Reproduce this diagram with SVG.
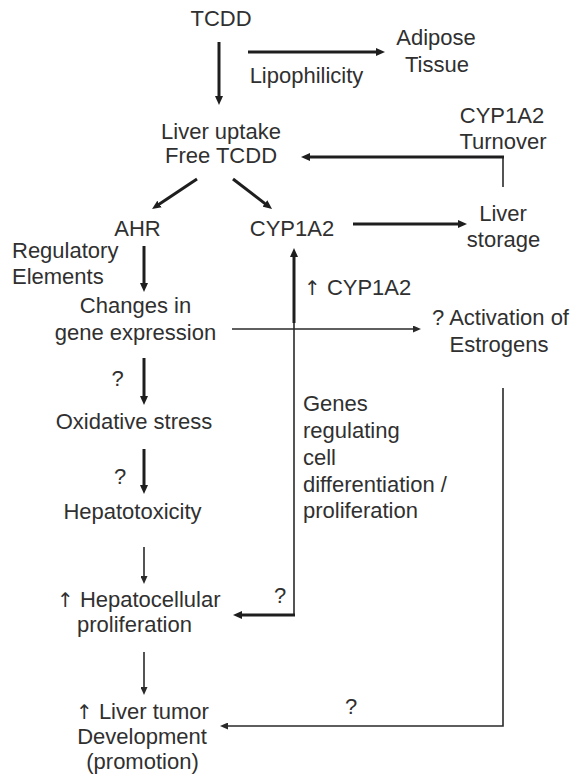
<svg xmlns="http://www.w3.org/2000/svg" width="570" height="780" viewBox="0 0 570 780">
<style>
text{font-family:"Liberation Sans",Arial,"DejaVu Sans",sans-serif;font-size:22px;fill:#303030}
.m{text-anchor:middle}
.up{font-family:"DejaVu Sans",sans-serif;font-size:20px;fill:#303030}
.thick{stroke:#1e1e1e;stroke-width:3;fill:none}
.thin{stroke:#2a2a2a;stroke-width:1.6;fill:none}
</style>
<defs>
<marker id="ah" markerUnits="userSpaceOnUse" markerWidth="10" markerHeight="8" refX="1" refY="4" orient="auto"><path d="M0,0 L9,4 L0,8 z" fill="#1e1e1e"/></marker>
<marker id="as" markerUnits="userSpaceOnUse" markerWidth="9" markerHeight="7" refX="1" refY="3.5" orient="auto"><path d="M0,0 L8,3.5 L0,7 z" fill="#2a2a2a"/></marker>
</defs>
<g id="n-tcdd"><text class="m" x="221" y="26">TCDD</text></g>
<g id="n-adipose"><text class="m" x="436" y="45">Adipose</text><text class="m" x="437" y="72">Tissue</text></g>
<g id="n-liver-uptake"><text class="m" x="221" y="139">Liver uptake</text><text class="m" x="221" y="163">Free TCDD</text></g>
<g id="n-turnover"><text class="m" x="502" y="123">CYP1A2</text><text class="m" x="503" y="149">Turnover</text></g>
<g id="n-ahr"><text class="m" x="137.5" y="236">AHR</text></g>
<g id="n-cyp1a2"><text class="m" x="292" y="236">CYP1A2</text></g>
<g id="n-storage"><text class="m" x="503" y="221">Liver</text><text class="m" x="503.5" y="247">storage</text></g>
<g id="n-regulatory"><text x="12" y="258">Regulatory</text><text x="12" y="284">Elements</text></g>
<g id="n-changes"><text class="m" x="135.5" y="313">Changes in</text><text class="m" x="135.5" y="340">gene expression</text></g>
<g id="n-estrogens"><text x="432" y="325">? Activation of</text><text class="m" x="499" y="352">Estrogens</text></g>
<g id="n-oxidative"><text class="m" x="134" y="429">Oxidative stress</text></g>
<g id="n-hepatotox"><text class="m" x="132.5" y="519">Hepatotoxicity</text></g>
<g id="n-genes"><text x="303" y="411">Genes</text><text x="303" y="438">regulating</text><text x="303" y="465">cell</text><text x="303" y="492">differentiation /</text><text x="303" y="518">proliferation</text></g>
<g id="n-hepatocellular"><text x="57" y="607"><tspan class="up">↑</tspan> Hepatocellular</text><text class="m" x="134.5" y="632">proliferation</text></g>
<g id="n-tumor"><text x="76" y="719"><tspan class="up">↑</tspan> Liver tumor</text><text class="m" x="142" y="744">Development</text><text class="m" x="142.5" y="769">(promotion)</text></g>
<g id="connectors">
<line class="thick" x1="219" y1="42" x2="219" y2="97" marker-end="url(#ah)"/>
<line class="thick" x1="248" y1="52" x2="377" y2="52" marker-end="url(#ah)"/>
<line class="thin" x1="503" y1="187" x2="503" y2="157"/>
<line class="thick" x1="504" y1="157" x2="309" y2="157" marker-end="url(#ah)"/>
<line class="thick" x1="197" y1="179" x2="158.7" y2="204.6" stroke-width="2.6" marker-end="url(#ah)"/>
<line class="thick" x1="233" y1="179" x2="265.7" y2="204.1" stroke-width="2.6" marker-end="url(#ah)"/>
<line class="thick" x1="353" y1="224" x2="459" y2="224" marker-end="url(#ah)"/>
<line class="thick" x1="144" y1="246" x2="144" y2="284" marker-end="url(#ah)"/>
<line class="thick" x1="294" y1="323" x2="294" y2="256" marker-end="url(#ah)"/>
<line class="thin" x1="294" y1="323" x2="294" y2="615"/>
<line class="thick" x1="295" y1="615" x2="241" y2="615" marker-end="url(#ah)"/>
<line class="thin" x1="232" y1="329" x2="414" y2="329" marker-end="url(#as)"/>
<line class="thick" x1="144" y1="358" x2="144" y2="397" marker-end="url(#ah)"/>
<line class="thick" x1="144" y1="449" x2="144" y2="486" marker-end="url(#ah)"/>
<line class="thin" x1="144" y1="547" x2="144" y2="577" marker-end="url(#as)"/>
<line class="thin" x1="144" y1="652" x2="144" y2="688" marker-end="url(#as)"/>
<polyline class="thin" points="503,388 503,726 227,726" marker-end="url(#as)"/>
<text x="306.5" y="83" class="m">Lipophilicity</text>
<text x="304" y="295"><tspan class="up">↑</tspan> CYP1A2</text>
<text class="m" x="117.5" y="386">?</text>
<text class="m" x="120" y="484">?</text>
<text class="m" x="280" y="603">?</text>
<text class="m" x="351" y="714">?</text>
</g>
</svg>
